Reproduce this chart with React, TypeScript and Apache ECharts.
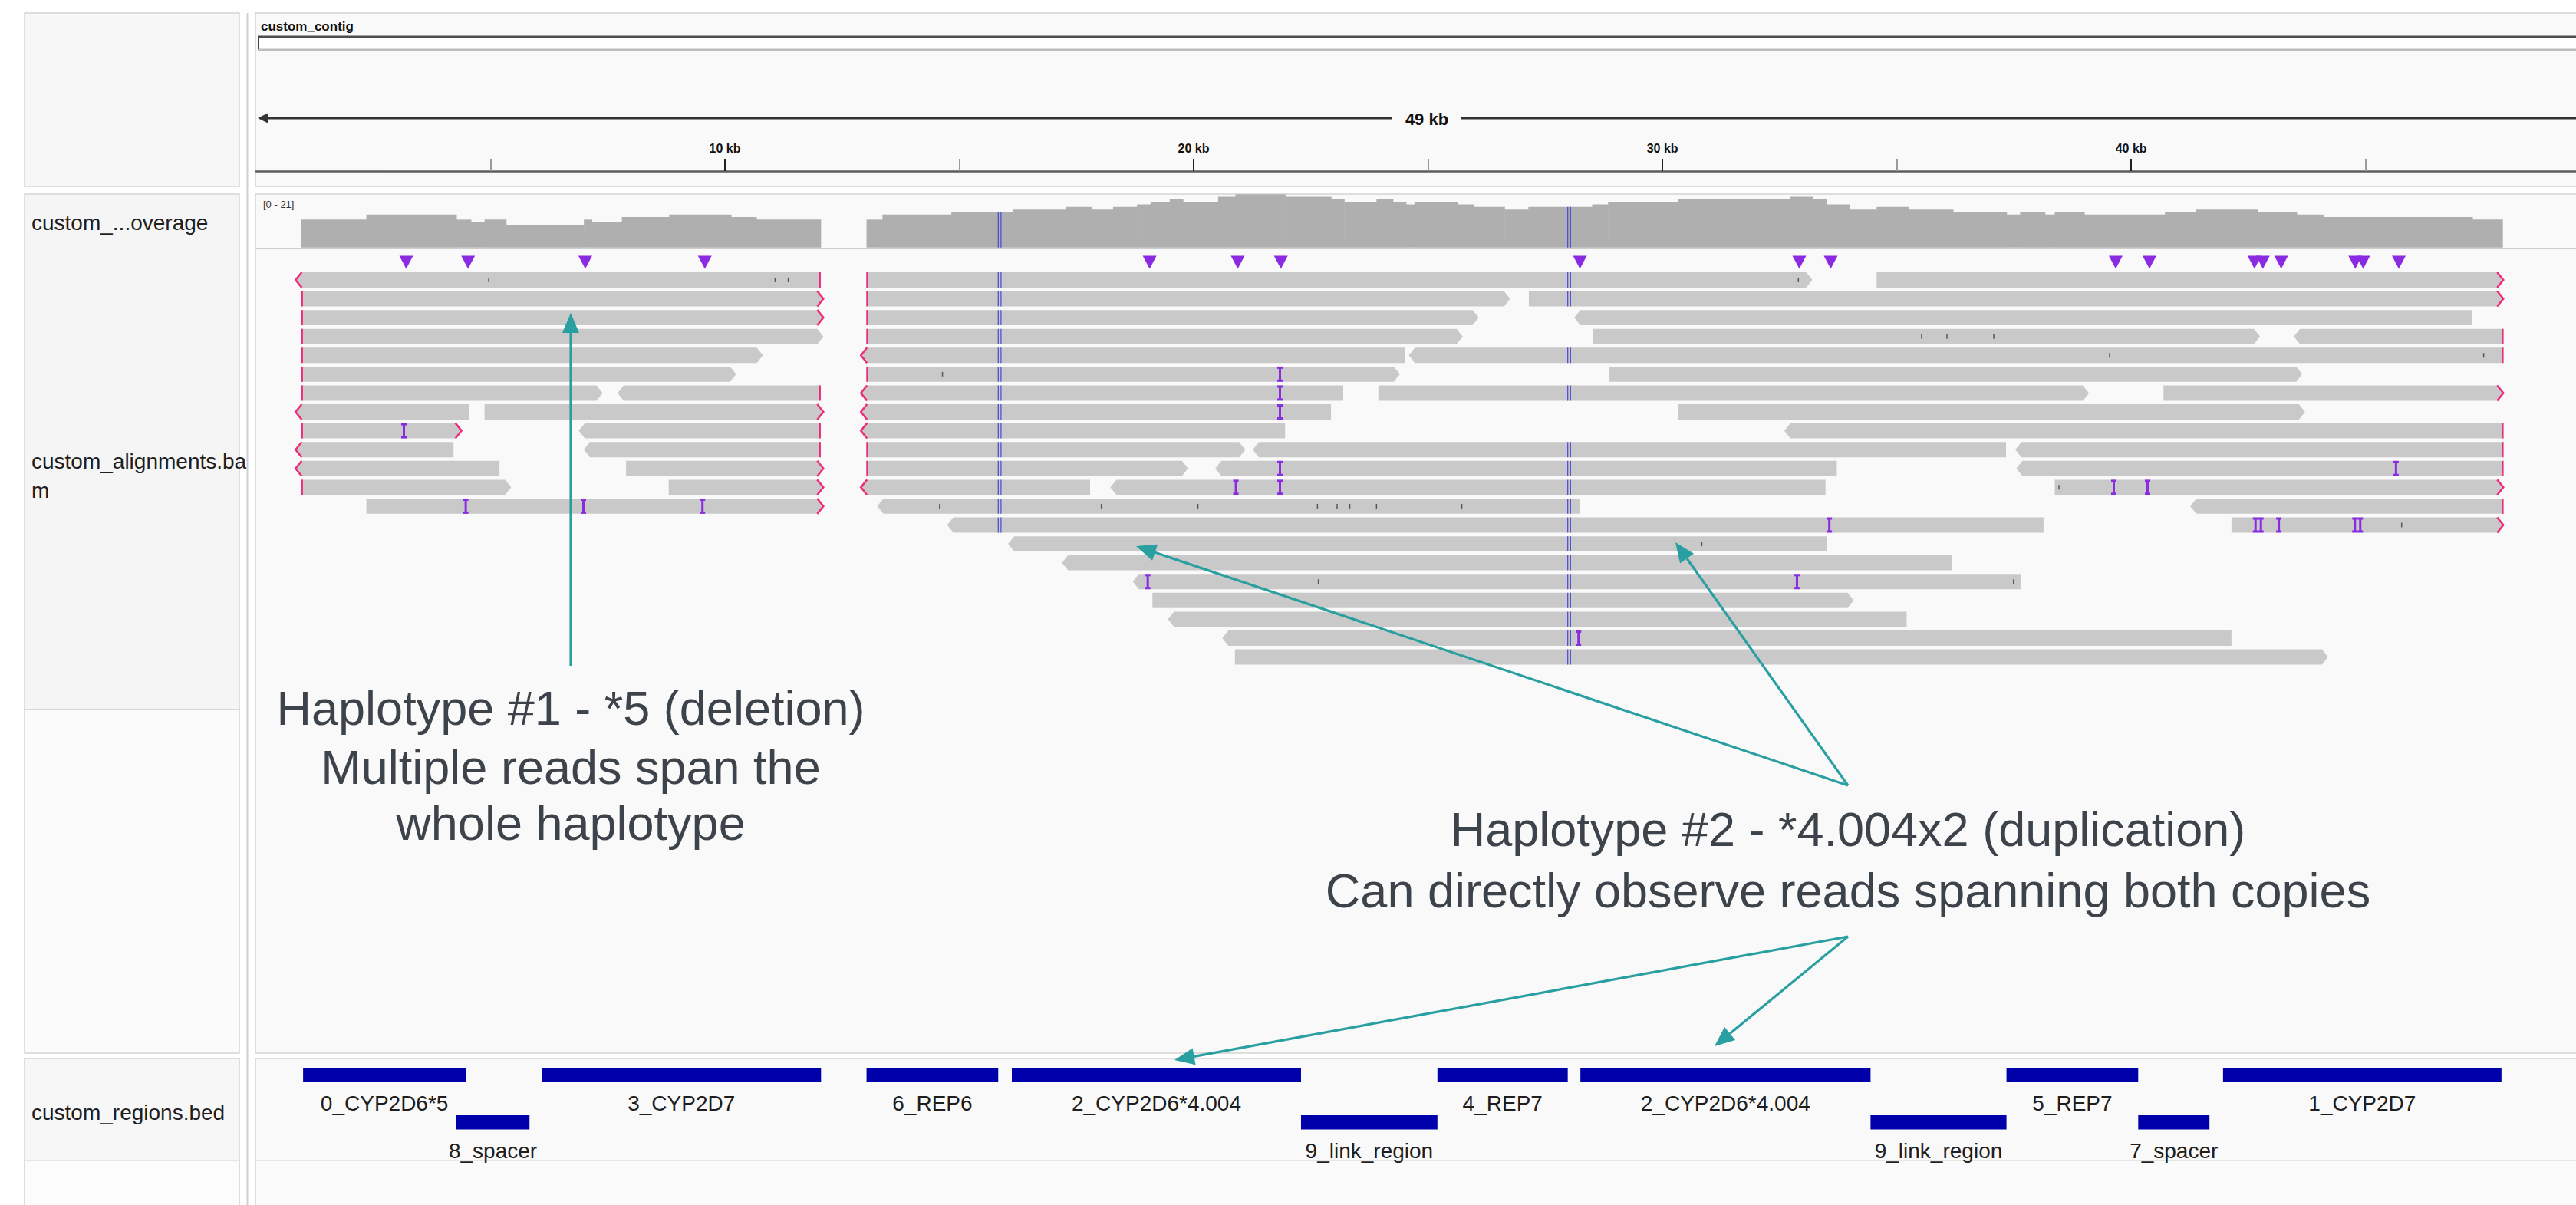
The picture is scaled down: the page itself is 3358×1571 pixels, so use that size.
import React, { useEffect, useRef } from "react";
import * as echarts from "echarts";

const W = 3358;
const H = 1571;
const FONT = "Liberation Sans";

// ---------- data (genomic positions in kb) ----------
const X_MIN = 0;
const X_MAX = 49.49;
const contigName = "custom_contig";
const spanLabel = "49 kb";
const rulerLabelKb = [10, 20, 30, 40];
const rulerMinorKb = [5, 15, 25, 35, 45];
const coverageRangeLabel = "[0 - 21]";
const coverageMax = 21;
const trackNames = ["custom_...overage", "custom_alignments.ba", "m", "custom_regions.bed"];

// coverage steps: [startKb, endKb, depth]
const coverageSteps: [number, number, number][] = [
  [0.96, 2.35, 11], [2.35, 4.27, 13], [4.27, 4.58, 11], [4.58, 4.87, 10], [4.87, 5.33, 11],
  [5.33, 6.99, 9], [6.99, 7.16, 11], [7.16, 7.8, 10], [7.8, 8.81, 12], [8.81, 10.13, 13],
  [10.13, 10.67, 12], [10.67, 12.04, 11],
  [13.02, 13.36, 11], [13.36, 14.83, 13], [14.83, 16.15, 14], [16.15, 17.27, 15], [17.27, 17.82, 16],
  [17.82, 18.28, 15], [18.28, 18.79, 16], [18.79, 19.08, 17], [19.08, 19.49, 18], [19.49, 19.77, 19],
  [19.77, 20.52, 18], [20.52, 20.89, 20], [20.89, 21.95, 21], [21.95, 22.93, 20], [22.93, 23.21, 19],
  [23.21, 23.9, 18], [23.9, 24.25, 19], [24.25, 24.53, 18], [24.53, 24.71, 17], [24.71, 25.63, 18],
  [25.63, 25.97, 17], [25.97, 26.63, 16], [26.63, 27.14, 15], [27.14, 28.5, 16], [28.5, 28.84, 17],
  [28.84, 30.33, 18], [30.33, 32.72, 19], [32.72, 33.2, 20], [33.2, 33.5, 19], [33.5, 33.99, 17],
  [33.99, 34.57, 15], [34.57, 35.25, 16], [35.25, 36.2, 15], [36.2, 37.34, 14], [37.34, 37.63, 13],
  [37.63, 38.16, 14], [38.16, 38.37, 13], [38.37, 39.0, 14], [39.0, 40.72, 13], [40.72, 41.38, 14],
  [41.38, 42.69, 15], [42.69, 43.53, 14], [43.53, 44.11, 13], [44.11, 47.28, 12], [47.28, 47.92, 11],
];

// blue allele columns: [kb, coverage depth there]
const blueColumns: [number, number][] = [[15.86, 14], [28.01, 16]];

// reads: [row, startKb, endKb, strand (1 fwd / -1 rev), clipLeft, clipRight]
const reads: [number, number, number, number, number, number][] = [
  [0, 0.84, 12.04, -1, 1, 1], [1, 0.96, 12.1, 1, 1, 1], [2, 0.96, 12.1, 1, 1, 1],
  [3, 0.96, 12.1, 1, 1, 0], [4, 0.96, 10.81, 1, 1, 0], [5, 0.96, 10.24, 1, 1, 0],
  [6, 0.96, 7.39, 1, 1, 0], [6, 7.71, 12.04, -1, 0, 1],
  [7, 0.84, 4.55, -1, 1, 0], [7, 4.87, 12.1, 1, 0, 1],
  [8, 0.96, 4.38, 1, 1, 1], [8, 6.88, 12.04, -1, 0, 1],
  [9, 0.84, 4.21, -1, 1, 0], [9, 6.99, 12.04, -1, 0, 1],
  [10, 0.84, 5.19, -1, 1, 0], [10, 7.89, 12.1, 1, 0, 1],
  [11, 0.96, 5.44, 1, 1, 0], [11, 8.8, 12.1, 1, 0, 1],
  [12, 2.35, 12.1, 1, 0, 1],
  [0, 13.02, 33.2, 1, 1, 0], [0, 34.57, 47.94, 1, 0, 1],
  [1, 13.02, 26.75, 1, 1, 0], [1, 27.15, 47.94, 1, 0, 1],
  [2, 13.02, 26.08, 1, 1, 0], [2, 28.12, 47.28, -1, 0, 0],
  [3, 13.02, 25.74, 1, 1, 0], [3, 28.52, 42.75, 1, 0, 0], [3, 43.47, 47.94, -1, 0, 1],
  [4, 12.9, 24.51, -1, 1, 0], [4, 24.59, 47.94, -1, 0, 1],
  [5, 13.02, 24.4, 1, 1, 0], [5, 28.87, 43.65, 1, 0, 0],
  [6, 12.9, 23.19, -1, 1, 0], [6, 23.94, 39.1, 1, 0, 0], [6, 40.69, 47.94, 1, 0, 1],
  [7, 12.9, 22.93, -1, 1, 0], [7, 30.33, 43.71, 1, 0, 0],
  [8, 12.9, 21.95, -1, 1, 0], [8, 32.6, 47.94, -1, 0, 1],
  [9, 13.02, 21.1, 1, 1, 0], [9, 21.26, 37.33, -1, 0, 0], [9, 37.53, 47.94, -1, 0, 1],
  [10, 13.02, 19.88, 1, 1, 0], [10, 20.46, 33.72, -1, 0, 0], [10, 37.55, 47.94, -1, 0, 1],
  [11, 12.9, 17.79, -1, 1, 0], [11, 18.22, 33.48, -1, 0, 0], [11, 38.37, 47.94, 1, 0, 1],
  [12, 13.25, 28.24, -1, 0, 0], [12, 41.26, 47.94, -1, 0, 1],
  [13, 14.74, 38.13, -1, 0, 0], [13, 42.14, 47.94, 1, 0, 1],
  [14, 16.04, 33.5, -1, 0, 0], [15, 17.19, 36.17, -1, 0, 0], [16, 18.7, 37.64, -1, 0, 0],
  [17, 19.12, 34.08, 1, 0, 0], [18, 19.45, 35.21, -1, 0, 0], [19, 20.61, 42.14, -1, 0, 0],
  [20, 20.88, 44.2, 1, 0, 0],
];

// insertions inside reads: [row, kb, count]
const readInsertions: [number, number, number][] = [
  [8, 3.15, 1], [12, 4.47, 1], [12, 6.98, 1], [12, 9.52, 1],
  [5, 21.84, 1], [6, 21.84, 1], [7, 21.84, 1], [10, 21.84, 1], [11, 20.9, 1], [11, 21.84, 1],
  [16, 19.02, 1], [19, 28.21, 1], [10, 45.65, 1], [11, 39.63, 1], [11, 40.35, 1],
  [13, 33.56, 1], [13, 42.71, 2], [13, 43.15, 1], [13, 44.83, 2], [16, 32.87, 1],
];

// mismatch ticks: [row, kb]
const mismatches: [number, number][] = [
  [0, 4.96], [0, 11.07], [0, 11.35], [0, 32.9], [3, 35.53], [3, 36.07], [3, 37.07],
  [4, 39.54], [4, 47.52], [5, 14.64], [12, 14.58], [12, 18.03], [12, 20.09], [12, 22.64],
  [12, 23.06], [12, 23.33], [12, 23.9], [12, 25.72], [16, 22.66], [11, 38.46], [13, 45.77],
  [14, 30.84], [16, 37.49],
];

// insertion summary markers above the reads (kb)
const insertionMarkers = [
  3.2, 4.52, 7.02, 9.57, 19.06, 20.94, 21.86, 28.24, 32.92, 33.59, 39.67, 40.39,
  42.63, 42.81, 43.2, 44.78, 44.95, 45.71,
];

// bed features
const bedNames = [
  "0_CYP2D6*5", "8_spacer", "3_CYP2D7", "6_REP6", "2_CYP2D6*4.004", "9_link_region",
  "4_REP7", "2_CYP2D6*4.004", "9_link_region", "5_REP7", "7_spacer", "1_CYP2D7",
];
const bedStarts = [1.0, 4.27, 6.09, 13.02, 16.12, 22.29, 25.2, 28.25, 34.44, 37.34, 40.15, 41.96];
const bedEnds = [4.47, 5.83, 12.05, 15.83, 22.29, 25.2, 27.98, 34.44, 37.34, 40.15, 41.67, 47.9];
const bedRows = [0, 1, 0, 0, 0, 1, 0, 0, 1, 0, 1, 0];

// annotations
const note1 = ["Haplotype #1 - *5 (deletion)", "Multiple reads span the", "whole haplotype"];
const note2 = ["Haplotype #2 - *4.004x2 (duplication)", "Can directly observe reads spanning both copies"];

// ---------- styles ----------
const READ_FILL = "#c9c9c9";
const COV_FILL = "#afafaf";
const CLIP = "#ee2a7b";
const PURPLE = "#8a2be2";
const BLUE = "#4646dc";
const BED_BLUE = "#0000aa";
const TEAL = "#2a9fa1";
const READ_H = 0.81;
const ARROW = 8;

function teArrow(x1: number, y1: number, x2: number, y2: number) {
  const ang = Math.atan2(y2 - y1, x2 - x1);
  const L = 26, Wd = 11;
  const bx = x2 - L * Math.cos(ang), by = y2 - L * Math.sin(ang);
  const px = -Math.sin(ang) * Wd, py = Math.cos(ang) * Wd;
  return [
    { type: "line", z: 60, shape: { x1, y1, x2: bx, y2: by }, style: { stroke: TEAL, lineWidth: 3.2 } },
    { type: "polygon", z: 60, shape: { points: [[x2, y2], [bx + px, by + py], [bx - px, by - py]] }, style: { fill: TEAL } },
  ];
}

function panelRect(x: number, y: number, w: number, h: number, fill: string, stroke = "#d3d3d3") {
  return { type: "rect", z: -5, shape: { x, y, width: w, height: h }, style: { fill, stroke, lineWidth: 1.5 } };
}

function txt(x: number, y: number, text: string, size: number, opts: any = {}) {
  return {
    type: "text", z: 61, x, y,
    style: {
      text, fontSize: size, fontFamily: FONT, fontWeight: opts.weight || "normal",
      fill: opts.fill || "#1e1e1e", align: opts.align || "left", verticalAlign: "middle",
      textAlign: opts.align || "left", textVerticalAlign: "middle",
    },
  };
}

function buildOption() {
  const graphics: any[] = [
    // top ruler panel
    panelRect(32, 17, 280, 226, "#f7f7f7"),
    panelRect(333, 17, 3040, 226, "#f9f9f9"),
    // tracks panel
    panelRect(32, 253, 280, 672, "#f5f5f5"),
    panelRect(32, 925, 280, 448, "#fbfbfb"),
    panelRect(333, 253, 3040, 1120, "#f9f9f9"),
    // bed panel
    panelRect(32, 1380, 280, 200, "#f7f7f7"),
    panelRect(333, 1380, 3040, 200, "#f9f9f9"),
    { type: "rect", z: -4, shape: { x: 32, y: 1513, width: 280, height: 70 }, style: { fill: "#fcfcfc" } },
    { type: "rect", z: -4, shape: { x: 334, y: 1513, width: 3030, height: 70 }, style: { fill: "#fbfbfb" } },
    { type: "line", z: -4, shape: { x1: 334, y1: 1513, x2: 3358, y2: 1513 }, style: { stroke: "#e6e6e6", lineWidth: 2 } },
    { type: "line", z: -4, shape: { x1: 32, y1: 1513, x2: 312, y2: 1513 }, style: { stroke: "#e6e6e6", lineWidth: 2 } },
    // splitter
    { type: "line", z: -4, shape: { x1: 322.5, y1: 17, x2: 322.5, y2: 1571 }, style: { stroke: "#cfcfcf", lineWidth: 2 } },
    // coverage separator
    { type: "line", z: 1, shape: { x1: 334, y1: 324, x2: 3358, y2: 324 }, style: { stroke: "#cdcdcd", lineWidth: 2 } },
    // ideogram
    { type: "rect", z: 1, shape: { x: 336, y: 48, width: 3030, height: 16 }, style: { fill: "#ffffff" } },
    { type: "line", z: 1, shape: { x1: 336, y1: 48, x2: 3358, y2: 48 }, style: { stroke: "#4d4d4d", lineWidth: 3 } },
    { type: "line", z: 1, shape: { x1: 336, y1: 65, x2: 3358, y2: 65 }, style: { stroke: "#bdbdbd", lineWidth: 3 } },
    { type: "line", z: 1, shape: { x1: 337, y1: 48, x2: 337, y2: 64 }, style: { stroke: "#444", lineWidth: 2 } },
    // span line
    { type: "line", z: 1, shape: { x1: 345, y1: 154, x2: 1815, y2: 154 }, style: { stroke: "#333", lineWidth: 3 } },
    { type: "line", z: 1, shape: { x1: 1905, y1: 154, x2: 3358, y2: 154 }, style: { stroke: "#333", lineWidth: 3 } },
    { type: "polygon", z: 1, shape: { points: [[336, 154], [350, 147], [350, 161]] }, style: { fill: "#333" } },
    txt(1860, 155, spanLabel, 22, { weight: "bold", align: "center", fill: "#111" }),
    txt(340, 34, contigName, 17, { weight: "bold", fill: "#111" }),
    txt(343, 266, coverageRangeLabel, 13, { fill: "#333" }),
    // track names
    txt(41, 290, trackNames[0], 28),
    txt(41, 601, trackNames[1], 28),
    txt(41, 639, trackNames[2], 28),
    txt(41, 1450, trackNames[3], 28),
  ];
  // annotations
  const NOTE_FILL = "#3d434a";
  [923, 1000, 1073].forEach((y, i) => graphics.push(txt(744, y, note1[i], 63, { align: "center", fill: NOTE_FILL })));
  [1081, 1161].forEach((y, i) => graphics.push(txt(2409, y, note2[i], 63, { align: "center", fill: NOTE_FILL })));
  graphics.push(...teArrow(744, 868, 744, 408));
  graphics.push(...teArrow(2409, 1024, 1481, 712));
  graphics.push(...teArrow(2409, 1024, 2184, 707));
  graphics.push(...teArrow(2409, 1221, 1531, 1382));
  graphics.push(...teArrow(2409, 1221, 2235, 1364));

  const hiddenX = (gi: number) => ({ gridIndex: gi, type: "value", min: X_MIN, max: X_MAX, show: false });

  return {
    animation: false,
    backgroundColor: "#ffffff",
    graphic: { elements: graphics },
    grid: [
      { left: 334, width: 3024, top: 150, height: 73 },
      { left: 334, width: 3024, top: 253.3, height: 69.4 },
      { left: 334, width: 3024, top: 330.4, height: 540.8 },
      { left: 334, width: 3024, top: 1392, height: 124 },
    ],
    xAxis: [
      {
        gridIndex: 0, type: "value", min: X_MIN, max: X_MAX, position: "bottom",
        axisLine: { show: false },
        axisTick: { show: true, inside: true, length: 16, customValues: rulerMinorKb, lineStyle: { color: "#9a9a9a", width: 2 } },
        axisLabel: { show: false }, splitLine: { show: false },
      },
      {
        gridIndex: 0, type: "value", min: X_MIN, max: X_MAX, position: "bottom",
        axisLine: { show: true, lineStyle: { color: "#5c5c5c", width: 2.5 } },
        axisTick: { show: true, inside: true, length: 16, customValues: rulerLabelKb, lineStyle: { color: "#222", width: 2 } },
        axisLabel: {
          show: true, inside: true, margin: 22, customValues: rulerLabelKb,
          formatter: (v: number) => `${v} kb`, fontFamily: FONT, fontWeight: "bold", fontSize: 16, color: "#111",
        },
        splitLine: { show: false },
      },
      hiddenX(1), hiddenX(2), hiddenX(3),
    ],
    yAxis: [
      { gridIndex: 0, type: "value", min: 0, max: 1, show: false },
      { gridIndex: 1, type: "value", min: 0, max: coverageMax, show: false },
      { gridIndex: 2, type: "value", min: -1, max: 21, inverse: true, show: false },
      { gridIndex: 3, type: "value", min: 0, max: 2, inverse: true, show: false },
    ],
    series: [
      { type: "line", xAxisIndex: 1, yAxisIndex: 0, data: [], silent: true },
      // coverage
      {
        type: "custom", xAxisIndex: 2, yAxisIndex: 1, data: coverageSteps, silent: true,
        renderItem: (_p: any, api: any) => {
          const a = api.coord([api.value(0), api.value(2)]);
          const b = api.coord([api.value(1), 0]);
          return { type: "rect", shape: { x: a[0], y: a[1], width: b[0] - a[0] + 0.6, height: b[1] - a[1] }, style: { fill: COV_FILL } };
        },
      },
      {
        type: "custom", xAxisIndex: 2, yAxisIndex: 1, data: blueColumns, silent: true, z: 3,
        renderItem: (_p: any, api: any) => {
          const t = api.coord([api.value(0), api.value(1)]);
          const b = api.coord([api.value(0), 0]);
          return {
            type: "group", children: [-1.8, 1.8].map((d) => ({
              type: "line", shape: { x1: t[0] + d, y1: t[1], x2: t[0] + d, y2: b[1] }, style: { stroke: BLUE, lineWidth: 1.2 },
            })),
          };
        },
      },
      // reads
      {
        type: "custom", xAxisIndex: 3, yAxisIndex: 2, data: reads, silent: true,
        renderItem: (_p: any, api: any) => {
          const row = api.value(0), s = api.value(1), e = api.value(2), strand = api.value(3);
          const cl = api.value(4), cr = api.value(5);
          const p0 = api.coord([s, row]);
          const p1 = api.coord([e, row + READ_H]);
          const x0 = p0[0], x1 = p1[0], t = p0[1], b = p1[1], m = (t + b) / 2;
          const pts = strand > 0
            ? [[x0, t], [x1 - ARROW, t], [x1, m], [x1 - ARROW, b], [x0, b]]
            : [[x0 + ARROW, t], [x1, t], [x1, b], [x0 + ARROW, b], [x0, m]];
          const children: any[] = [{ type: "polygon", shape: { points: pts }, style: { fill: READ_FILL } }];
          blueColumns.forEach(([kb]) => {
            if (kb > s + 0.05 && kb < e - 0.05) {
              const x = api.coord([kb, row])[0];
              [-1.8, 1.8].forEach((d) => children.push({
                type: "line", shape: { x1: x + d, y1: t, x2: x + d, y2: b }, style: { stroke: BLUE, lineWidth: 1.2 },
              }));
            }
          });
          if (cl) {
            children.push(strand < 0
              ? { type: "polyline", shape: { points: [[x0 + ARROW, t], [x0, m], [x0 + ARROW, b]] }, style: { stroke: CLIP, lineWidth: 2.5, fill: "none" } }
              : { type: "line", shape: { x1: x0 + 1, y1: t, x2: x0 + 1, y2: b }, style: { stroke: CLIP, lineWidth: 2.5 } });
          }
          if (cr) {
            children.push(strand > 0
              ? { type: "polyline", shape: { points: [[x1 - ARROW, t], [x1, m], [x1 - ARROW, b]] }, style: { stroke: CLIP, lineWidth: 2.5, fill: "none" } }
              : { type: "line", shape: { x1: x1 - 1, y1: t, x2: x1 - 1, y2: b }, style: { stroke: CLIP, lineWidth: 2.5 } });
          }
          return { type: "group", children };
        },
      },
      // mismatches
      {
        type: "custom", xAxisIndex: 3, yAxisIndex: 2, data: mismatches, silent: true, z: 4,
        renderItem: (_p: any, api: any) => {
          const p = api.coord([api.value(1), api.value(0) + READ_H / 2]);
          return { type: "line", shape: { x1: p[0], y1: p[1] - 3, x2: p[0], y2: p[1] + 3 }, style: { stroke: "#555", lineWidth: 1.5 } };
        },
      },
      // insertions
      {
        type: "custom", xAxisIndex: 3, yAxisIndex: 2, data: readInsertions, silent: true, z: 5,
        renderItem: (_p: any, api: any) => {
          const row = api.value(0), n = api.value(2);
          const p = api.coord([api.value(1), row]);
          const b = api.coord([api.value(1), row + READ_H])[1];
          const children: any[] = [];
          const offs = n > 1 ? [-3.5, 3.5] : [0];
          offs.forEach((d) => {
            const x = p[0] + d;
            children.push({ type: "line", shape: { x1: x, y1: p[1] + 1, x2: x, y2: b - 1 }, style: { stroke: PURPLE, lineWidth: 3 } });
            children.push({ type: "rect", shape: { x: x - 3.5, y: p[1], width: 7, height: 3 }, style: { fill: PURPLE } });
            children.push({ type: "rect", shape: { x: x - 3.5, y: b - 3, width: 7, height: 3 }, style: { fill: PURPLE } });
          });
          return { type: "group", children };
        },
      },
      // insertion markers
      {
        type: "custom", xAxisIndex: 3, yAxisIndex: 2, data: insertionMarkers.map((k) => [k]), silent: true,
        encode: { x: 0 },
        renderItem: (_p: any, api: any) => {
          const p = api.coord([api.value(0), -0.55]);
          return {
            type: "polygon", shape: { points: [[p[0] - 9, p[1] - 8], [p[0] + 9, p[1] - 8], [p[0], p[1] + 9]] },
            style: { fill: PURPLE },
          };
        },
      },
      // bed features
      {
        type: "custom", xAxisIndex: 4, yAxisIndex: 3, silent: true,
        data: bedNames.map((n, i) => [bedStarts[i], bedEnds[i], bedRows[i], n]),
        encode: { x: [0, 1], y: 2 },
        renderItem: (_p: any, api: any) => {
          const a = api.coord([api.value(0), api.value(2)]);
          const b = api.coord([api.value(1), api.value(2)]);
          const name = bedNames[_p.dataIndex];
          return {
            type: "group", children: [
              { type: "rect", shape: { x: a[0], y: a[1], width: b[0] - a[0], height: 18.5 }, style: { fill: BED_BLUE } },
              {
                type: "text", x: (a[0] + b[0]) / 2, y: a[1] + 46,
                style: { text: name, fontSize: 28, fontFamily: FONT, fill: "#1e1e1e", align: "center", verticalAlign: "middle" },
              },
            ],
          };
        },
      },
    ],
  };
}

export default function App() {
  const ref = useRef<HTMLDivElement>(null);
  useEffect(() => {
    const chart = echarts.init(ref.current!, null, { renderer: "svg", width: W, height: H });
    chart.setOption(buildOption() as any);
    return () => chart.dispose();
  }, []);
  return <div ref={ref} style={{ position: "absolute", left: 0, top: 0, width: W, height: H }} />;
}
